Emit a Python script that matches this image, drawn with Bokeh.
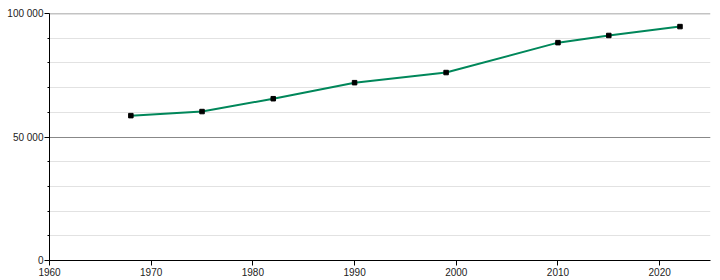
from bokeh.plotting import figure
from bokeh.models import SingleIntervalTicker, Range1d, ColumnDataSource, Span
from bokeh.embed import file_html
from bokeh.resources import INLINE

years = [1968, 1975, 1982, 1990, 1999, 2010, 2015, 2022]
population = [58650, 60300, 65500, 72000, 76100, 88200, 91100, 94700]
y_tick_labels = {0: "0", 50000: "50 000", 100000: "100 000"}

src = ColumnDataSource(dict(x=years, y=population))

p = figure(width=720, height=280, output_backend="svg", toolbar_location=None,
           x_range=Range1d(1960, 2025), y_range=Range1d(0, 100000),
           min_border_left=49, min_border_right=10, min_border_top=13, min_border_bottom=20)
p.outline_line_color = None
p.background_fill_color = "white"

p.xgrid.grid_line_color = None
p.yaxis.ticker = SingleIntervalTicker(interval=50000, num_minor_ticks=5)
p.xaxis.ticker = SingleIntervalTicker(interval=10, num_minor_ticks=0)
p.ygrid.grid_line_color = "#888888"
p.ygrid.minor_grid_line_color = "#e2e2e2"
p.yaxis.major_label_overrides = y_tick_labels
p.add_layout(Span(location=max(y_tick_labels), dimension="width",
                  line_color="#888888", line_width=1.5))

for ax in (p.xaxis, p.yaxis):
    ax.axis_line_color = "black"
    ax.major_tick_line_color = "black"
    ax.minor_tick_line_color = "black"
    ax.major_tick_in = 0
    ax.major_tick_out = 5
    ax.minor_tick_in = 0
    ax.minor_tick_out = 2
    ax.major_label_text_font = "Liberation Sans"
    ax.major_label_text_font_size = "10px"
    ax.major_label_text_color = "#222222"
    ax.major_label_standoff = 2
p.yaxis.major_label_standoff = 1
p.xaxis.minor_tick_line_color = None

p.line("x", "y", source=src, line_color="#00875a", line_width=2)
p.scatter("x", "y", source=src, marker="square", size=4.5, fill_color="black", line_color="black")

open("out.html", "w").write(file_html(p, INLINE))
